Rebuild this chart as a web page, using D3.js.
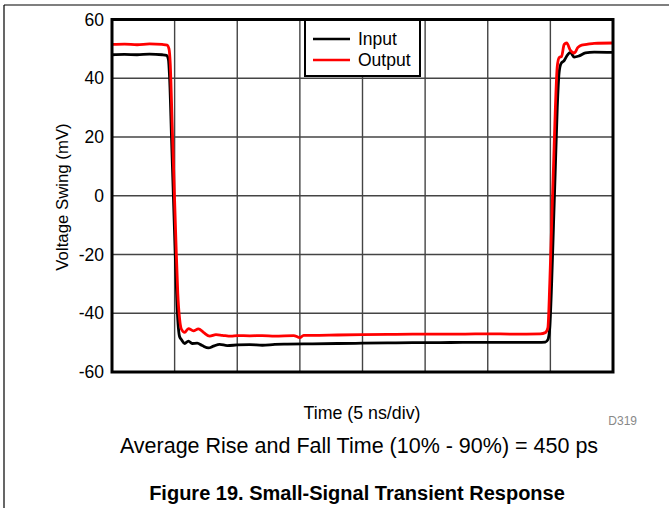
<!DOCTYPE html>
<html>
<head>
<meta charset="utf-8">
<script src="https://cdn.jsdelivr.net/npm/d3@7"></script>
<style>
  html, body { margin: 0; padding: 0; background: #fff; }
  svg { display: block; font-family: "Liberation Sans", Arial, sans-serif; }
</style>
</head>
<body>
<svg id="chart" width="669" height="508"></svg>
<script>
// Time in ns (5 ns/div, 8 divisions), voltage in mV
const inputT = [0, 1, 2, 3, 4, 4.35, 4.5, 4.6, 4.75, 4.9, 5.05, 5.2, 5.3, 5.4, 5.55, 5.8, 6.1, 6.4, 6.8, 7.2, 7.7, 8.1, 8.6, 9.2, 10, 11, 12, 13, 14, 16, 18, 20, 22, 24, 26, 28, 34, 34.6, 34.8, 34.95, 35.1, 35.25, 35.4, 35.55, 35.7, 35.85, 36.1, 36.3, 36.6, 36.9, 37.3, 37.8, 38.5, 40];
const inputV = [48.0, 48.1, 48.0, 48.2, 48.0, 47.8, 46.5, 40, 20, 0, -20, -38, -45, -48, -49, -50.3, -49.5, -50.3, -50.2, -51.0, -51.8, -51.2, -50.6, -51.0, -50.8, -50.7, -50.9, -50.6, -50.5, -50.4, -50.3, -50.2, -50.1, -50.0, -50.0, -49.9, -49.9, -49.8, -49.0, -45, -30, -10, 10, 30, 42, 45, 46, 47.5, 48.8, 47.2, 47.6, 48.6, 48.9, 48.8];

const outputT = [0, 1, 2, 3, 4, 4.4, 4.55, 4.65, 4.8, 4.95, 5.1, 5.25, 5.4, 5.55, 5.8, 6.1, 6.5, 6.9, 7.3, 7.8, 8.3, 8.8, 9.5, 10, 11, 12, 13, 14.5, 15.0, 15.3, 16, 18, 20, 22, 24, 26, 28, 30, 32, 34.2, 34.6, 34.8, 34.95, 35.1, 35.25, 35.4, 35.55, 35.7, 35.9, 36.1, 36.3, 36.6, 36.9, 37.2, 37.5, 37.9, 38.5, 40];
const outputV = [51.5, 51.6, 51.4, 51.7, 51.5, 51.3, 50, 45, 25, 5, -15, -33, -42, -45.5, -46.5, -45.2, -46, -45.3, -46.5, -47.8, -47.3, -47.5, -47.8, -47.6, -47.7, -47.6, -47.8, -47.6, -48.3, -47.5, -47.5, -47.4, -47.3, -47.2, -47.1, -47.1, -47.1, -47.0, -47.1, -47.0, -46.6, -45, -30, -10, 10, 30, 44, 47, 47.5, 51.5, 52, 49.5, 48.6, 50.5, 51.3, 51.5, 51.9, 52.0];

const yTicks = [-60, -40, -20, 0, 20, 40, 60];
const xDivs = [0, 5, 10, 15, 20, 25, 30, 35, 40];

const seriesNames = ["Input", "Output"];
const seriesColors = ["#000000", "#ff0000"];

const svg = d3.select("#chart");
const plot = { left: 112, right: 613, top: 19.5, bottom: 372 };

const x = d3.scaleLinear().domain([0, 40]).range([plot.left, plot.right]);
const y = d3.scaleLinear().domain([-60, 60]).range([plot.bottom, plot.top]);

// Page frame
svg.append("line").attr("x1", 4).attr("x2", 669).attr("y1", 5).attr("y2", 5)
  .attr("stroke", "#000").attr("stroke-width", 1.2);
svg.append("line").attr("x1", 4).attr("x2", 4).attr("y1", 5).attr("y2", 508)
  .attr("stroke", "#000").attr("stroke-width", 1.2);

// Grid
const grid = svg.append("g");
grid.selectAll(".gx").data(xDivs.slice(1, -1)).join("line")
  .attr("x1", d => x(d)).attr("x2", d => x(d))
  .attr("y1", plot.top).attr("y2", plot.bottom)
  .attr("stroke", "#444").attr("stroke-width", 1.4);
grid.selectAll(".gy").data(yTicks.slice(1, -1)).join("line")
  .attr("x1", plot.left).attr("x2", plot.right)
  .attr("y1", d => y(d)).attr("y2", d => y(d))
  .attr("stroke", "#444").attr("stroke-width", 1.4);

// Y axis tick labels (plain hyphen for negatives)
const yAxis = d3.axisLeft(y).tickValues(yTicks).tickFormat(d => String(d))
  .tickSize(0).tickPadding(8);
const ya = svg.append("g").attr("transform", `translate(${plot.left},0)`).call(yAxis);
ya.select(".domain").remove();
ya.selectAll("text").attr("font-size", 17.5).attr("fill", "#000")
  .attr("font-family", "Liberation Sans, Arial, sans-serif");

// Traces
const line = d3.line().x(d => x(d[0])).y(d => y(d[1])).curve(d3.curveMonotoneX);
const series = [d3.zip(inputT, inputV), d3.zip(outputT, outputV)];
series.forEach((pts, i) => {
  svg.append("path").datum(pts).attr("d", line)
    .attr("fill", "none").attr("stroke", seriesColors[i])
    .attr("stroke-width", 2.8).attr("stroke-linejoin", "round");
});

// Plot border
svg.append("rect").attr("x", plot.left).attr("y", plot.top)
  .attr("width", plot.right - plot.left).attr("height", plot.bottom - plot.top)
  .attr("fill", "none").attr("stroke", "#000").attr("stroke-width", 3);

// Legend
const lg = svg.append("g");
lg.append("rect").attr("x", 305).attr("y", 20).attr("width", 115).attr("height", 56)
  .attr("fill", "#fff").attr("stroke", "#000").attr("stroke-width", 2);
seriesNames.forEach((name, i) => {
  const ly = 39 + i * 21;
  lg.append("line").attr("x1", 313).attr("x2", 350).attr("y1", ly).attr("y2", ly)
    .attr("stroke", seriesColors[i]).attr("stroke-width", 2.4);
  lg.append("text").attr("x", 358).attr("y", ly + 6).attr("font-size", 17.5)
    .attr("fill", "#000").text(name);
});

// Axis titles and notes
svg.append("text").attr("transform", "translate(68,197) rotate(-90)")
  .attr("text-anchor", "middle").attr("font-size", 16.8).text("Voltage Swing (mV)");
svg.append("text").attr("x", 362).attr("y", 419).attr("text-anchor", "middle")
  .attr("font-size", 17.8).text("Time (5 ns/div)");
svg.append("text").attr("x", 637).attr("y", 425).attr("text-anchor", "end")
  .attr("font-size", 12).attr("fill", "#888").text("D319");
svg.append("text").attr("x", 359).attr("y", 453).attr("text-anchor", "middle")
  .attr("font-size", 21.5).text("Average Rise and Fall Time (10% - 90%) = 450 ps");
svg.append("text").attr("x", 357).attr("y", 500).attr("text-anchor", "middle")
  .attr("font-size", 20).attr("font-weight", "bold")
  .text("Figure 19. Small-Signal Transient Response");
</script>
</body>
</html>
